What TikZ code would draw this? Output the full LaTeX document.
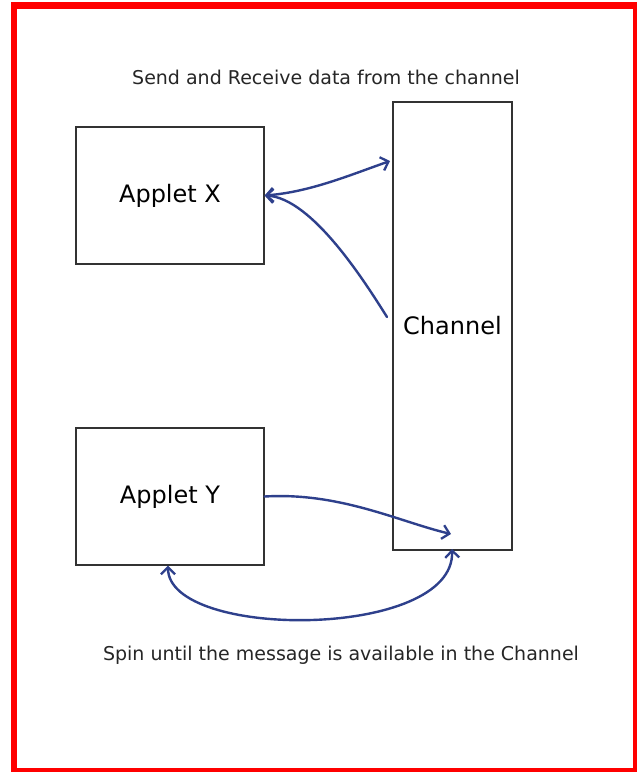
\documentclass[tikz,border=0pt]{standalone}
\usepackage{fontspec}
\setmainfont{DejaVu Sans}
\usetikzlibrary{arrows.meta}
\definecolor{frame}{RGB}{255,0,0}
\definecolor{flow}{RGB}{46,64,140}
\definecolor{edge}{RGB}{50,50,50}
\tikzset{
  tip/.tip={Straight Barb[length=7pt,width=14pt,line width=2.3pt]},
  box/.style={draw=edge, line width=1.3pt, fill=white, inner sep=0pt},
  big/.style={font=\fontsize{24}{28}\selectfont, text=black},
  note/.style={font=\fontsize{19}{22}\selectfont, text=black!85},
  link/.style={draw=flow, line width=2.4pt, line cap=round, arrows={-tip}},
  twoway/.style={link, arrows={tip-tip}}
}
\begin{document}
\begin{tikzpicture}[x=1pt,y=-1pt]
  % page and red frame
  \useasboundingbox (0,0) rectangle (637,772);
  \fill[white] (0,0) rectangle (637,772);
  \fill[frame] (11,2) rectangle (637,772);
  \fill[white] (17,9) rectangle (633,768);

  % boxes
  \node[box, minimum width=188pt, minimum height=137pt] (ax) at (170,195.5) {};
  \node[box, minimum width=188pt, minimum height=137pt] (ay) at (170,496.5) {};
  \node[box, minimum width=119pt, minimum height=448pt] (ch) at (452.5,326) {};
  \node[big] at (ax.center) {Applet X};
  \node[big] at (ay.center) {Applet Y};
  \node[big] at (ch.center) {Channel};

  % captions
  \node[note] (top) at (326,77) {Send and Receive data from the channel};
  \node[note] (bot) at (341,655) {Spin until the message is available in the Channel};

  % free ends on the channel
  \coordinate (chin) at (390,161);
  \coordinate (chout) at (387,317);
  \coordinate (chy) at (451,534);
  \coordinate (chb) at (452,549);

  % connectors
  \draw[twoway] (ax.east) .. controls (310,192) and (350,175) .. (chin);
  \draw[link] (chout) .. controls (365,282) and (312,198) .. (ax.east);
  \draw[link] (ay.east) .. controls (340,492) and (400,522) .. (chy);
  \draw[twoway] ([xshift=-2pt]ay.south) .. controls (168,640) and (455,640) .. (chb);
\end{tikzpicture}
\end{document}
